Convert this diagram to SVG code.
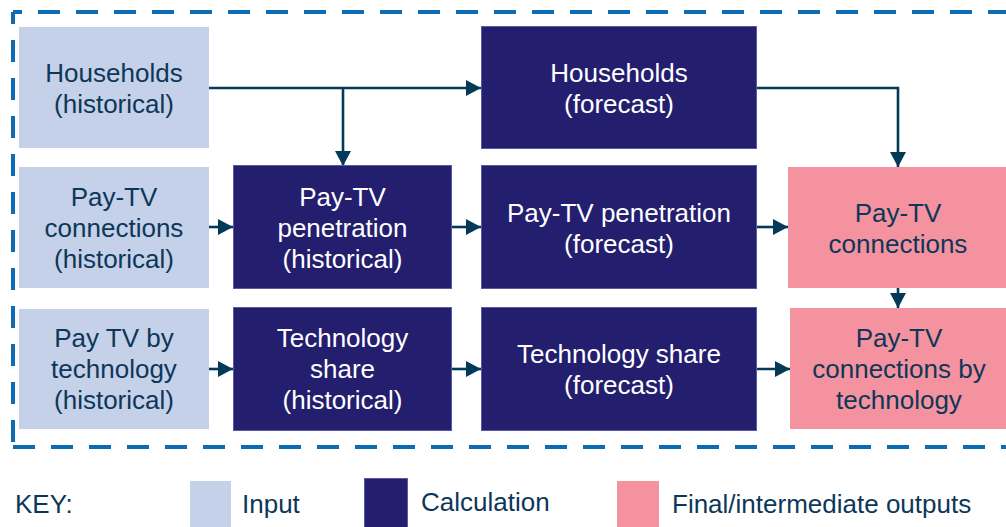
<svg xmlns="http://www.w3.org/2000/svg" width="1006" height="527" viewBox="0 0 1006 527">
<defs>
<marker id="ah" markerUnits="userSpaceOnUse" markerWidth="16" markerHeight="16" refX="15" refY="8" orient="auto">
<path d="M0,0 L15,8 L0,16 z" fill="#023a58"/>
</marker>
<style>
text{font-family:"Liberation Sans",Arial,sans-serif;font-size:26px;text-anchor:middle}
.in{fill:#c5d0e9}
.calc{fill:#241e6e;stroke:#5d58a3;stroke-width:1}
.out{fill:#f4929f}
.dk{fill:#0d3758}
.lt{fill:#ffffff}
.con{fill:none;stroke:#023a58;stroke-width:2.6}
.dash{fill:none;stroke:#0b6bb5;stroke-width:4;stroke-dasharray:22 16}
.key{text-anchor:start;fill:#0d3758}
</style>
</defs>
<rect width="1006" height="527" fill="#ffffff"/>
<g id="frame">
<line class="dash" x1="13" y1="12" x2="1012" y2="12" stroke-dashoffset="13"/>
<line class="dash" x1="13" y1="12" x2="13" y2="447" stroke-dashoffset="10"/>
<line class="dash" x1="13" y1="447" x2="1012" y2="447"/>
</g>
<g id="connectors">
<path class="con" d="M209,88 H481" marker-end="url(#ah)"/>
<path class="con" d="M343,88 V166" marker-end="url(#ah)"/>
<path class="con" d="M757,88 H898 V167" marker-end="url(#ah)"/>
<path class="con" d="M209,227 H233" marker-end="url(#ah)"/>
<path class="con" d="M452,227 H481" marker-end="url(#ah)"/>
<path class="con" d="M757,227 H788" marker-end="url(#ah)"/>
<path class="con" d="M898,288 V308" marker-end="url(#ah)"/>
<path class="con" d="M209,369 H233" marker-end="url(#ah)"/>
<path class="con" d="M452,369 H481" marker-end="url(#ah)"/>
<path class="con" d="M757,369 H790" marker-end="url(#ah)"/>
</g>
<g id="households-hist">
<rect class="in" x="19" y="27" width="190" height="121"/>
<text class="dk" x="114" y="82">Households</text>
<text class="dk" x="114" y="113">(historical)</text>
</g>
<g id="households-fc">
<rect class="calc" x="481.5" y="26.5" width="275" height="122"/>
<text class="lt" x="619" y="82">Households</text>
<text class="lt" x="619" y="113">(forecast)</text>
</g>
<g id="paytv-conn-hist">
<rect class="in" x="19" y="167" width="190" height="121"/>
<text class="dk" x="114" y="206">Pay-TV</text>
<text class="dk" x="114" y="237">connections</text>
<text class="dk" x="114" y="268">(historical)</text>
</g>
<g id="paytv-pen-hist">
<rect class="calc" x="233.5" y="165.5" width="218" height="123"/>
<text class="lt" x="342.5" y="206">Pay-TV</text>
<text class="lt" x="342.5" y="237">penetration</text>
<text class="lt" x="342.5" y="268">(historical)</text>
</g>
<g id="paytv-pen-fc">
<rect class="calc" x="481.5" y="165.5" width="275" height="123"/>
<text class="lt" x="619" y="222">Pay-TV penetration</text>
<text class="lt" x="619" y="253">(forecast)</text>
</g>
<g id="paytv-conn">
<rect class="out" x="788" y="167" width="222" height="121"/>
<text class="dk" x="898" y="222">Pay-TV</text>
<text class="dk" x="898" y="253">connections</text>
</g>
<g id="paytv-tech-hist">
<rect class="in" x="19" y="309" width="190" height="120"/>
<text class="dk" x="114" y="347">Pay TV by</text>
<text class="dk" x="114" y="378">technology</text>
<text class="dk" x="114" y="409">(historical)</text>
</g>
<g id="tech-share-hist">
<rect class="calc" x="233.5" y="307.5" width="218" height="123"/>
<text class="lt" x="342.5" y="347">Technology</text>
<text class="lt" x="342.5" y="378">share</text>
<text class="lt" x="342.5" y="409">(historical)</text>
</g>
<g id="tech-share-fc">
<rect class="calc" x="481.5" y="307.5" width="275" height="123"/>
<text class="lt" x="619" y="363">Technology share</text>
<text class="lt" x="619" y="394">(forecast)</text>
</g>
<g id="paytv-conn-tech">
<rect class="out" x="790" y="308" width="220" height="121"/>
<text class="dk" x="899" y="347">Pay-TV</text>
<text class="dk" x="899" y="378">connections by</text>
<text class="dk" x="899" y="409">technology</text>
</g>
<g id="key">
<text class="key" x="15" y="513">KEY:</text>
<rect class="in" x="190" y="481" width="41" height="46"/>
<text class="key" x="242" y="513">Input</text>
<rect class="calc" x="364.5" y="478.5" width="43" height="50"/>
<text class="key" x="421" y="511">Calculation</text>
<rect class="out" x="617" y="481" width="42" height="46"/>
<text class="key" x="672" y="513">Final/intermediate outputs</text>
</g>
</svg>
